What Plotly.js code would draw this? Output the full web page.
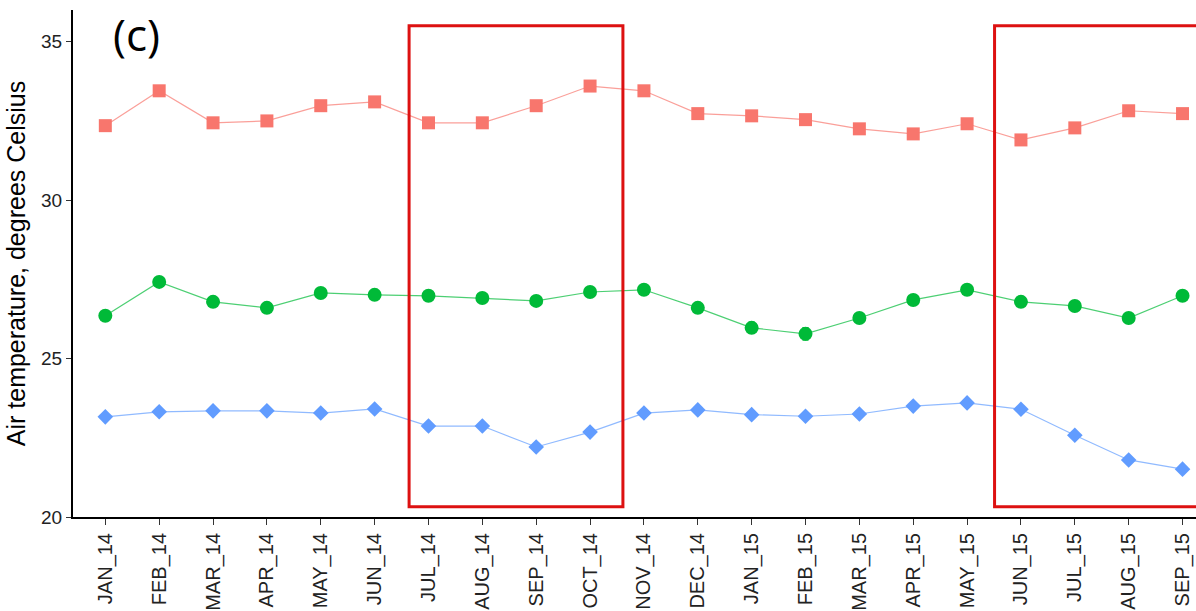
<!DOCTYPE html>
<html>
<head>
<meta charset="utf-8">
<script src="https://cdn.plot.ly/plotly-3.0.1.min.js"></script>
<style>html,body{margin:0;padding:0;background:#fff;}#chart{width:1196px;height:611px;}</style>
</head>
<body>
<div id="chart"></div>
<script>
const months = ["JAN_14","FEB_14","MAR_14","APR_14","MAY_14","JUN_14","JUL_14","AUG_14","SEP_14","OCT_14","NOV_14","DEC_14","JAN_15","FEB_15","MAR_15","APR_15","MAY_15","JUN_15","JUL_15","AUG_15","SEP_15"];
const maxTemp = [32.35,33.45,32.44,32.5,32.98,33.1,32.44,32.44,32.98,33.6,33.45,32.73,32.66,32.54,32.25,32.09,32.41,31.9,32.28,32.82,32.73];
const meanTemp = [26.35,27.42,26.79,26.6,27.07,27.01,26.98,26.91,26.82,27.1,27.17,26.6,25.97,25.78,26.28,26.85,27.17,26.79,26.66,26.28,26.98];
const meanErr = [0.1,0.15,0.08,0.08,0.12,0.12,0.08,0.08,0.1,0.08,0.08,0.1,0.18,0.2,0.12,0.12,0.08,0.08,0.12,0.12,0.08];
const minTemp = [23.16,23.32,23.35,23.35,23.28,23.41,22.87,22.87,22.21,22.68,23.28,23.38,23.23,23.18,23.25,23.5,23.6,23.4,22.58,21.8,21.51];
const boxes = [[5.64,9.61],[16.51,22]];
const boxY = [20.32,35.5];

const traces = [
  {x: months, y: maxTemp, type:'scatter', mode:'lines+markers',
   line:{color:'rgba(248,118,109,0.7)', width:1.2},
   marker:{symbol:'square', size:13, color:'#F8766D'}},
  {x: months, y: meanTemp, type:'scatter', mode:'lines+markers',
   line:{color:'rgba(0,186,56,0.7)', width:1.2},
   marker:{symbol:'circle', size:14, color:'#00BA38'},
   error_y:{type:'data', array: meanErr, color:'#00BA38', thickness:1, width:3}},
  {x: months, y: minTemp, type:'scatter', mode:'lines+markers',
   line:{color:'rgba(97,156,255,0.7)', width:1.2},
   marker:{symbol:'diamond', size:12, color:'#619CFF'}}
];

const shapes = boxes.map(b => ({type:'rect', xref:'x', yref:'y', x0:b[0], x1:b[1], y0:boxY[0], y1:boxY[1],
  line:{color:'#DD1111', width:3}, fillcolor:'rgba(0,0,0,0)'}));

const layout = {
  width:1196, height:611,
  margin:{l:73, r:0, t:10, b:94},
  paper_bgcolor:'#fff', plot_bgcolor:'#fff',
  showlegend:false,
  font:{family:'Liberation Sans, Arial, sans-serif', color:'#222'},
  xaxis:{type:'category', range:[-0.6,20.25], showgrid:false, zeroline:false,
    showline:true, linecolor:'#000', linewidth:2, ticks:'outside', ticklen:6, tickcolor:'#333', tickwidth:1,
    tickangle:-90, tickfont:{size:20, color:'#222'}},
  yaxis:{range:[20,36], tickvals:[20,25,30,35], showgrid:false, zeroline:false,
    showline:true, linecolor:'#000', linewidth:2, ticks:'outside', ticklen:5, tickcolor:'#333', tickwidth:1,
    tickfont:{size:19, color:'#222'},
    title:{text:'Air temperature, degrees Celsius', font:{size:25, color:'#000'}, standoff:8}},
  shapes: shapes,
  annotations:[{text:'(c)', xref:'paper', yref:'paper', x:0.034, y:1.015, xanchor:'left', yanchor:'top',
    showarrow:false, font:{family:'Open Sans, sans-serif', size:44, color:'#000'}}]
};
Plotly.newPlot('chart', traces, layout, {displayModeBar:false, staticPlot:true});
</script>
</body>
</html>
